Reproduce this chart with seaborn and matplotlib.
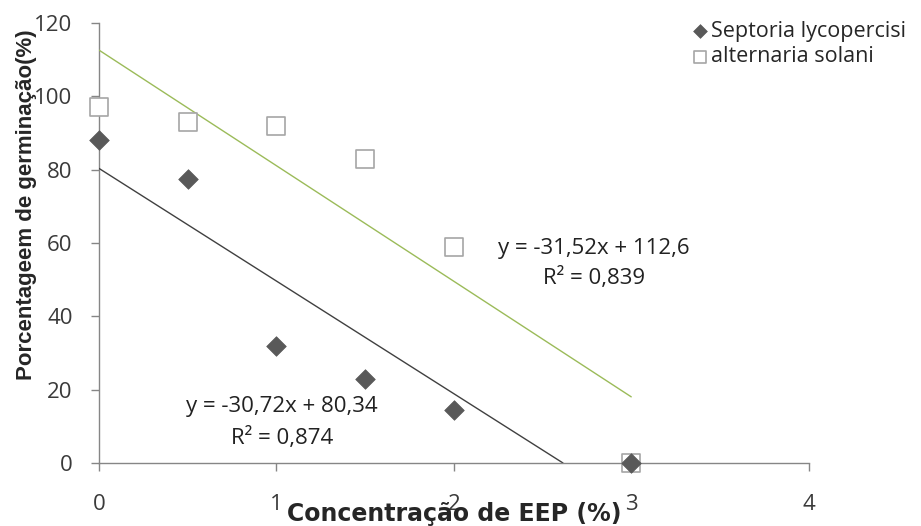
import matplotlib
matplotlib.use("Agg")
import matplotlib.pyplot as plt
import seaborn as sns
import pandas as pd
import numpy as np

# dados
concentracao = [0, 0.5, 1, 1.5, 2, 3]
septoria = [88, 77.5, 32, 23, 14.5, 0]
alternaria = [97, 93, 92, 83, 59, 0]

# linhas de tendência (equações mostradas no gráfico)
sept_coef = (-30.72, 80.34)
alt_coef = (-31.52, 112.6)

x_ticks = [0, 1, 2, 3, 4]
y_ticks = [0, 20, 40, 60, 80, 100, 120]

df = pd.DataFrame({
    'x': concentracao * 2,
    'y': septoria + alternaria,
    'serie': ['Septoria lycopercisi'] * 6 + ['alternaria solani'] * 6,
})

sns.set_style('white')
plt.rcParams['font.family'] = ['Open Sans', 'DejaVu Sans']

fig = plt.figure(figsize=(9.21, 5.26), dpi=100)
ax = fig.add_axes([0.1075, 0.1198, 0.7705, 0.8365])

# tendência
x_sept_end = -sept_coef[1] / sept_coef[0]
tr_sept = pd.DataFrame({'x': [0, x_sept_end]})
tr_sept['y'] = sept_coef[0] * tr_sept['x'] + sept_coef[1]
tr_alt = pd.DataFrame({'x': [0, 3]})
tr_alt['y'] = alt_coef[0] * tr_alt['x'] + alt_coef[1]
sns.lineplot(data=tr_alt, x='x', y='y', color='#9bbb59', linewidth=1, ax=ax, zorder=2)
sns.lineplot(data=tr_sept, x='x', y='y', color='#404040', linewidth=1, ax=ax, zorder=2)

sns.scatterplot(data=df[df.serie == 'alternaria solani'], x='x', y='y', marker='s', s=165,
                facecolor='white', edgecolor='#a6a6a6', linewidth=1.2,
                label='alternaria solani', ax=ax, zorder=3, clip_on=False)
sns.scatterplot(data=df[df.serie == 'Septoria lycopercisi'], x='x', y='y', marker='D', s=100,
                color='#595959', edgecolor='#595959', linewidth=0.5,
                label='Septoria lycopercisi', ax=ax, zorder=4, clip_on=False)

ax.set_xlim(0, 4)
ax.set_ylim(0, 120)
ax.set_xticks(x_ticks)
ax.set_yticks(y_ticks)
ax.margins(0)

for s in ['top', 'right']:
    ax.spines[s].set_visible(False)
for s in ['left', 'bottom']:
    ax.spines[s].set_color('#868686')
    ax.spines[s].set_linewidth(1)
ax.spines['left'].set_zorder(1)
ax.tick_params(axis='both', direction='out', length=6, color='#868686', width=1,
               labelsize=16, labelcolor='#3a3a3a', left=True, bottom=True)
ax.tick_params(axis='x', pad=16)
ax.tick_params(axis='y', pad=13)

ax.set_xlabel('Concentração de EEP (%)', fontsize=17, fontweight='bold',
              family=['DejaVu Sans'])
ax.set_ylabel('Porcentageem de germinação(%)', fontsize=16, fontweight='bold',
              family=['Liberation Sans', 'DejaVu Sans'])
ax.xaxis.set_label_coords(0.5, -0.088)
ax.yaxis.set_label_coords(-0.087, 0.586)

ax.text(2.79, 58.6, 'y = -31,52x + 112,6', ha='center', va='center', fontsize=16, color='#222222')
ax.text(2.79, 50.4, 'R² = 0,839', ha='center', va='center', fontsize=16, color='#222222')
ax.text(1.03, 15.3, 'y = -30,72x + 80,34', ha='center', va='center', fontsize=16, color='#222222')
ax.text(1.03, 6.7, 'R² = 0,874', ha='center', va='center', fontsize=16, color='#222222')

h, l = ax.get_legend_handles_labels()
order = [l.index('Septoria lycopercisi'), l.index('alternaria solani')]
leg = ax.legend([h[i] for i in order], [l[i] for i in order], loc='upper left',
                bbox_to_anchor=(0.728, 0.997), bbox_transform=fig.transFigure,
                frameon=False, fontsize=15.5, handletextpad=0.05, handlelength=0.95,
                labelspacing=0.2, markerscale=0.7)

fig.savefig('out.png', dpi=100)
